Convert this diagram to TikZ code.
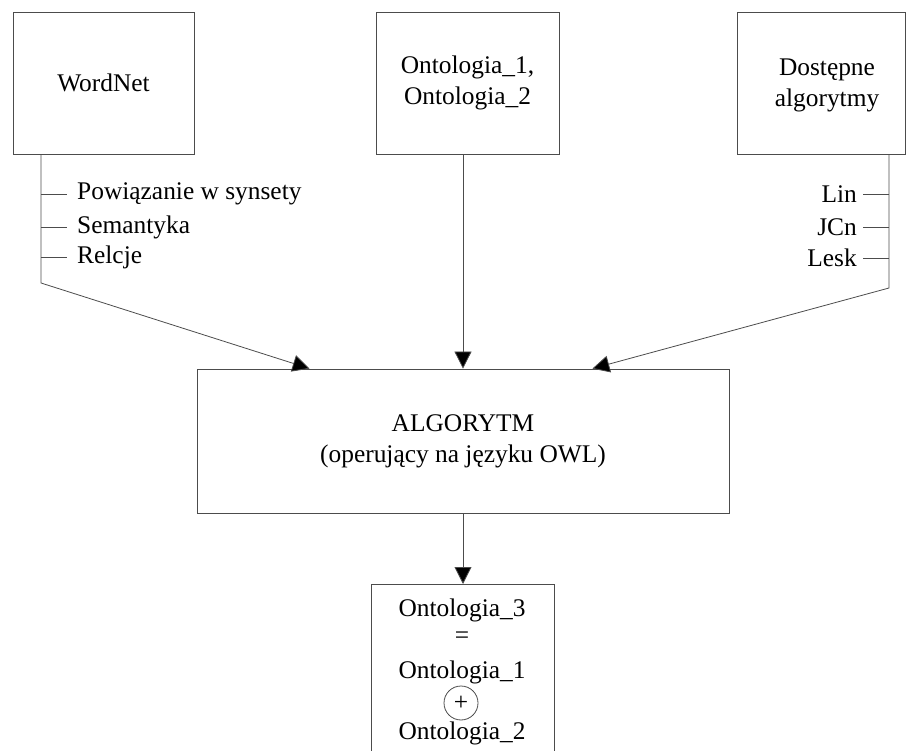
\documentclass[tikz,border=0pt]{standalone}
\usepackage{fontspec}
\setmainfont{Liberation Serif}
\newfontfamily\diagfont{Liberation Serif}
\usetikzlibrary{arrows.meta}
\begin{document}
\begin{tikzpicture}[x=1pt,y=-1pt,
				every node/.style={font=\diagfont\fontsize{25.4}{31}\selectfont,align=center},
				box/.style={draw=black!70,line width=0.8pt,inner sep=0pt},
				link/.style={draw=black!70,line width=0.8pt},
				arrow/.style={link,-{Triangle[length=17pt,width=17pt,fill=black]}}]
\clip (0,0) rectangle (906,751);
% top row
\node[box,minimum width=181pt,minimum height=142pt] (wordnet) at (103.5,83) {WordNet};
\node[box,minimum width=183pt,minimum height=142pt] (onto) at (467.5,83) {Ontologia\_1,\\Ontologia\_2};
\node[box,minimum width=168pt,minimum height=142pt] (algos) at (821,83) {};
\node (algostext) at ([xshift=6pt,yshift=-2pt]algos.center) {Dostępne\\algorytmy};
% middle
\node[box,minimum width=532pt,minimum height=144pt] (algo) at (463,441) {ALGORYTM\\(operujący na języku OWL)};
% bottom
\node[box,anchor=north,minimum width=183pt,minimum height=220pt] (result) at (462.5,584) {};
\node (o3) at (462,610) {Ontologia\_3};
\node (eq) at (462,638) {=};
\node (o1) at (462,672) {Ontologia\_1};
\node[circle,draw=black!70,line width=0.8pt,minimum size=34pt,inner sep=0pt] (plus) at (461,703) {+};
\node (o2) at (462,733) {Ontologia\_2};
% WordNet features
\coordinate (wnbend) at (41,283);
\foreach \y/\t/\n in {192/Powiązanie w synsety/wn1,225/Semantyka/wn2,255/Relcje/wn3}{
	\node[anchor=west,inner xsep=10pt] (\n) at (67,\y+2) {\t};
	\draw[link] (wnbend |- \n.west) -- (\n.west);
}
% available algorithms
\coordinate (albend) at (889,288);
\foreach \y/\t/\n in {192/Lin/al1,225/JCn/al2,256/Lesk/al3}{
	\node[anchor=east,inner xsep=6pt] (\n) at (863,\y+2) {\t};
	\draw[link] (albend |- \n.east) -- (\n.east);
}
% connectors
\draw[arrow] (wordnet.south -| wnbend) -- (wnbend) -- ([xshift=113pt]algo.north west);
\draw[arrow] (onto.south -| algo.north) -- (algo.north);
\draw[arrow] (algos.south -| albend) -- (albend) -- ([xshift=-137pt]algo.north east);
\draw[arrow] (algo.south) -- (algo.south |- result.north);
\end{tikzpicture}
\end{document}
